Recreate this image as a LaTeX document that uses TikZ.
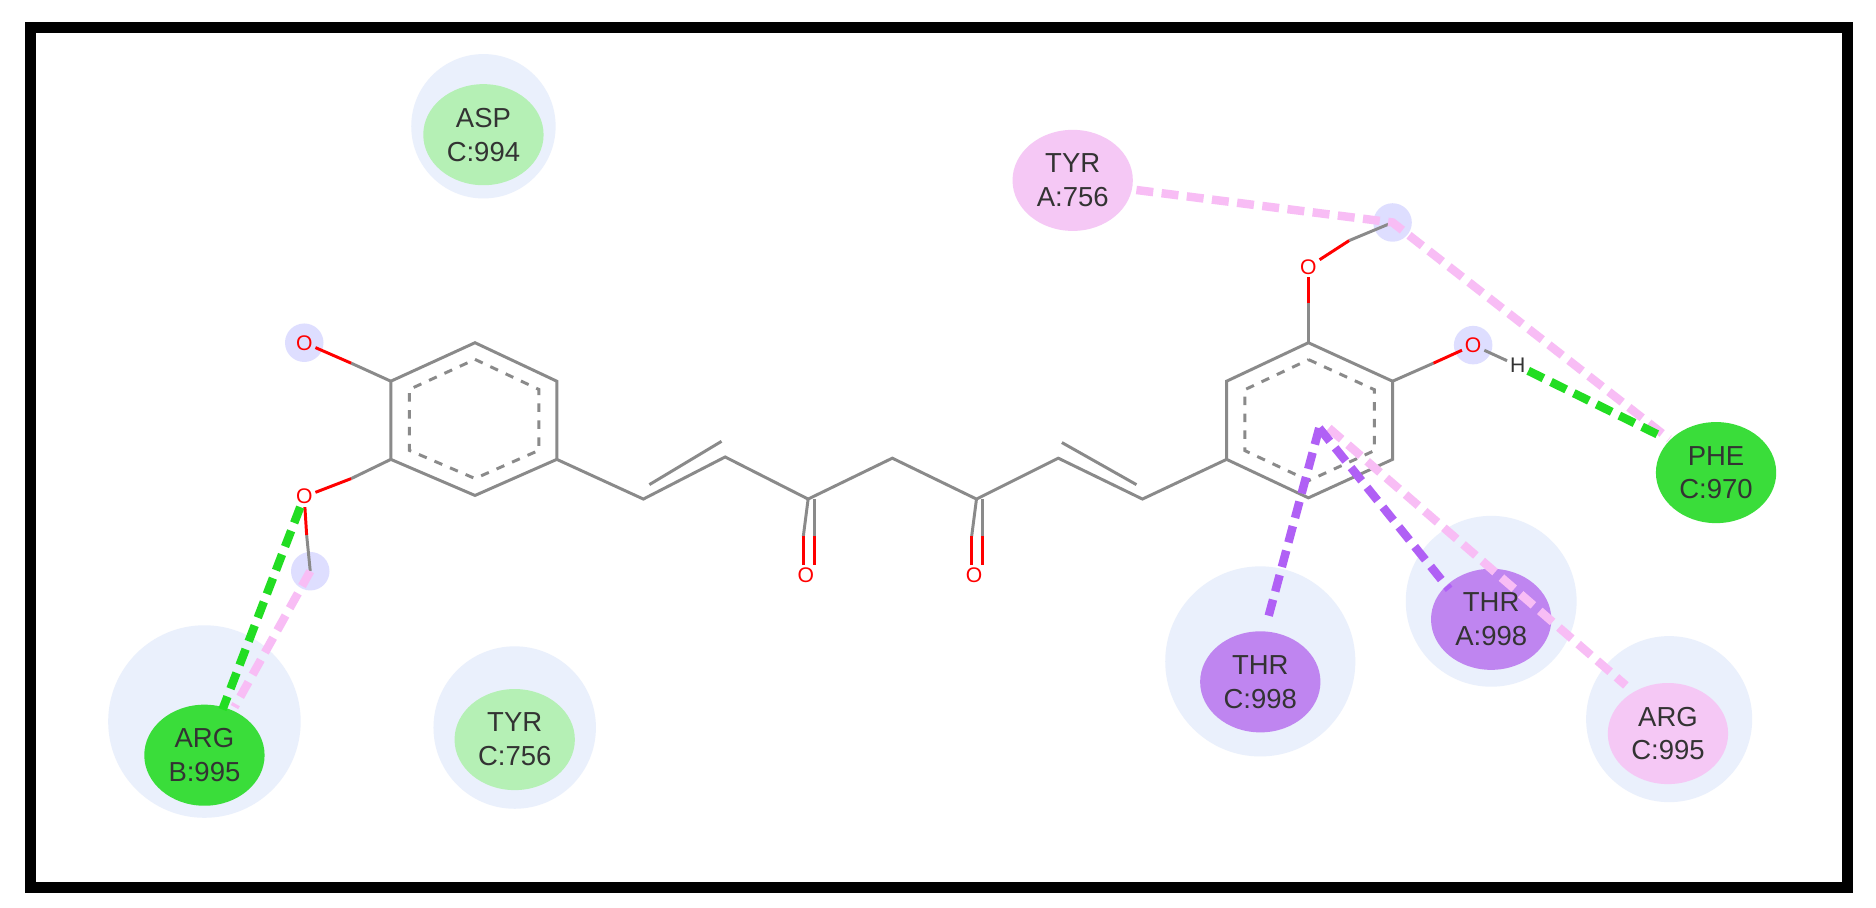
\documentclass[tikz,border=0pt]{standalone}
\usepackage{fontspec}
\setmainfont{Liberation Sans}
\usetikzlibrary{shapes.geometric,calc}
\definecolor{lg}{HTML}{B5F0B5}
\definecolor{dg}{HTML}{3ADD3A}
\definecolor{pk}{HTML}{F5C8F5}
\definecolor{pu}{HTML}{BF85F0}
\definecolor{halo}{HTML}{EAF0FC}
\definecolor{bond}{HTML}{8A8A8A}
\definecolor{hb}{HTML}{22DD22}
\definecolor{pid}{HTML}{B060F5}
\definecolor{pal}{HTML}{F8BDF5}
\begin{document}
\begin{tikzpicture}[x=0.01cm,y=-0.01cm,
 res/.style={ellipse,minimum width=1cm,minimum height=0.84cm,inner sep=0pt,align=center,font=\fontsize{6.5}{8}\selectfont,text=black!80},
 bd/.style={draw=bond,line width=0.7pt},
 ox/.style={draw=red,line width=0.7pt},
 atom/.style={inner sep=0.5pt,font=\fontsize{5}{5}\selectfont,text=red},
 glow/.style={circle,minimum size=0.32cm,inner sep=0pt,fill=blue!25,opacity=0.5},
 inter/.style={line width=2pt,dash pattern=on 4pt off 2pt},
 hal/.style={circle,fill=halo,inner sep=0pt}]
\useasboundingbox (0,0) rectangle (1560,755);
\fill[white] (0,0) rectangle (1560,755);
\draw[line width=2.6pt] (25,23) rectangle (1536,738);
% halos
\node[hal,minimum size=1.6cm] at (170,600) {};
\node[hal,minimum size=1.35cm] at (428,605) {};
\node[hal,minimum size=1.2cm] at (402,105) {};
\node[hal,minimum size=1.58cm] at (1048,550) {};
\node[hal,minimum size=1.42cm] at (1240,500) {};
\node[hal,minimum size=1.38cm] at (1388,598) {};
% glows
\node[glow] (g1) at (253,285) {};
\node[glow] (g2) at (258,475) {};
\node[glow] (g3) at (1158,185) {};
\node[glow] (g4) at (1225,287) {};
% coordinates
\coordinate (a1) at (395,285); \coordinate (a2) at (463,317); \coordinate (a3) at (463,382);
\coordinate (a4) at (395,412); \coordinate (a5) at (325,382); \coordinate (a6) at (325,317);
\coordinate (b1) at (1088,285); \coordinate (b2) at (1158,317); \coordinate (b3) at (1158,382);
\coordinate (b4) at (1088,414); \coordinate (b5) at (1020,382); \coordinate (b6) at (1020,317);
\coordinate (c1) at (535,415); \coordinate (c2) at (603,380); \coordinate (c3) at (672,415);
\coordinate (c4) at (742,381); \coordinate (c5) at (812,415); \coordinate (c6) at (880,381);
\coordinate (c7) at (950,415);
\coordinate (rc) at (1097,356);
% rings
\draw[bd] (a1)--(a2)--(a3)--(a4)--(a5)--(a6)--cycle;
\draw[bd,dash pattern=on 2pt off 2pt] ($(a1)!0.22!(395,348)$) -- ($(a2)!0.22!(395,348)$) -- ($(a3)!0.22!(395,348)$) -- ($(a4)!0.22!(395,348)$) -- ($(a5)!0.22!(395,348)$) -- ($(a6)!0.22!(395,348)$) -- cycle;
\draw[bd] (b1)--(b2)--(b3)--(b4)--(b5)--(b6)--cycle;
\draw[bd,dash pattern=on 2pt off 2pt] ($(b1)!0.22!(1089,349)$) -- ($(b2)!0.22!(1089,349)$) -- ($(b3)!0.22!(1089,349)$) -- ($(b4)!0.22!(1089,349)$) -- ($(b5)!0.22!(1089,349)$) -- ($(b6)!0.22!(1089,349)$) -- cycle;
% chain
\draw[bd] (a3)--(c1)--(c2)--(c3)--(c4)--(c5)--(c6)--(c7)--(b5);
\draw[bd] ($(c1)+(5,-12)$)--($(c2)+(-3,-13)$);
\draw[bd] ($(c6)+(3,-13)$)--($(c7)+(-5,-12)$);
% carbonyls
\node[atom] (o1) at (670,478) {O};
\node[atom] (o2) at (810,478) {O};
\draw[bd] (c3)--(668,446); \draw[ox] (668,446)--(668,470);
\draw[bd] (677,415)--(677,446); \draw[ox] (677,446)--(677,470);
\draw[bd] (c5)--(808,446); \draw[ox] (808,446)--(808,470);
\draw[bd] (817,415)--(817,446); \draw[ox] (817,446)--(817,470);
% left O's
\node[atom] (o3) at (253,285) {O};
\node[atom] (o4) at (253,413) {O};
\draw[bd] (a6)--(292,302); \draw[ox] (292,302)--(o3);
\draw[bd] (a5)--(292,398); \draw[ox] (292,398)--(o4);
\draw[ox] (o4)--(255,445); \draw[bd] (255,445)--(258,475);
% right O's
\node[atom] (o5) at (1088,222) {O};
\node[atom] (o6) at (1225,287) {O};
\node[atom,text=black!80] (h1) at (1262,304) {H};
\draw[bd] (b1)--(1088,252); \draw[ox] (1088,252)--(o5);
\draw[ox] (o5)--(1122,200); \draw[bd] (1122,200)--(1158,185);
\draw[bd] (b2)--(1192,302); \draw[ox] (1192,302)--(o6);
\draw[bd] (o6)--(h1);
% residues
\node[res,fill=lg] (asp) at (402,112) {ASP\\C:994};
\node[res,fill=pk] (tyra) at (892,150) {TYR\\A:756};
\node[res,fill=dg] (phe) at (1427,393) {PHE\\C:970};
\node[res,fill=pu] (thra) at (1240,515) {THR\\A:998};
\node[res,fill=pu] (thrc) at (1048,567) {THR\\C:998};
\node[res,fill=pk] (argc) at (1387,610) {ARG\\C:995};
\node[res,fill=dg] (argb) at (170,628) {ARG\\B:995};
\node[res,fill=lg] (tyrc) at (428,615) {TYR\\C:756};
% interactions
\draw[inter,pal] (g2.center) -- (195,588);
\draw[inter,hb] (o4) -- (185,590);
\draw[inter,pal] (945,158) -- (g3.center) -- (1388,365);
\draw[inter,hb] (h1) -- (1384,364);
\draw[inter,pal] (1105,356) -- (1352,570);
\draw[inter,pid] (rc) -- (1055,512);
\draw[inter,pid] (rc) -- (1205,490);
\end{tikzpicture}
\end{document}
